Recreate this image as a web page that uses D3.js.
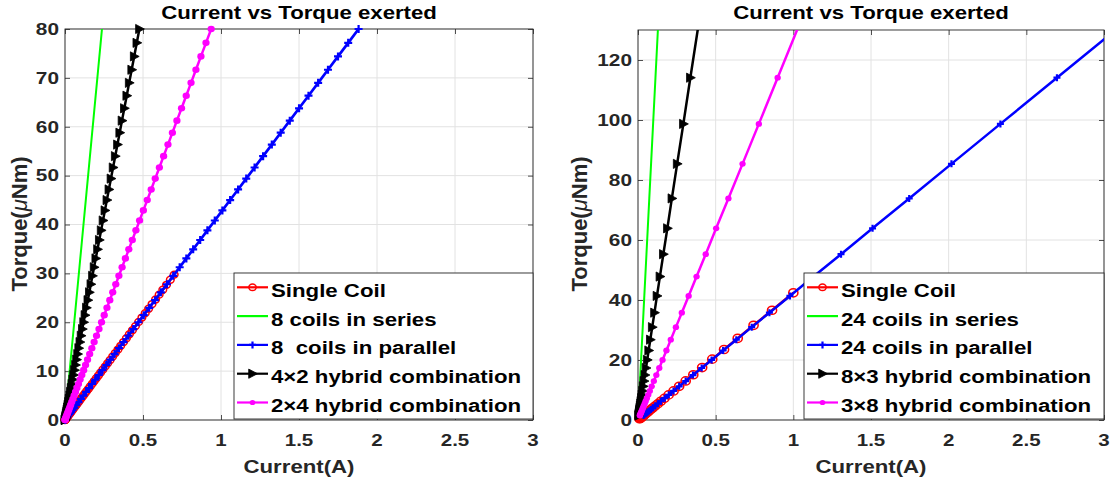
<!DOCTYPE html>
<html><head><meta charset="utf-8">
<script src="https://cdn.jsdelivr.net/npm/d3@7"></script>
<style>
body{margin:0;background:#fff}
text{font-family:"Liberation Sans",Arial,sans-serif;font-weight:bold}
</style>
</head><body><svg id="c" width="1118" height="488"></svg>
<script>
// ---------- tick labels / legend text ----------
const xTickValues = [0, 0.5, 1, 1.5, 2, 2.5, 3];
const xTickLabels = ["0", "0.5", "1", "1.5", "2", "2.5", "3"];
const leftYTicks = [0, 10, 20, 30, 40, 50, 60, 70, 80];
const rightYTicks = [0, 20, 40, 60, 80, 100, 120];
const leftLegend = ["Single Coil", "8 coils in series", "8  coils in parallel", "4\u00d72 hybrid combination", "2\u00d74 hybrid combination"];
const rightLegend = ["Single Coil", "24 coils in series", "24 coils in parallel", "8\u00d73 hybrid combination", "3\u00d78 hybrid combination"];

// ---------- left panel data (8 coils) ----------
const leftTorque = [0,0.03,0.10,0.23,0.41,0.64,0.92,1.25,1.63,2.07,2.55,3.09,3.67,4.31,5.00,5.74,6.53,7.37,8.27,9.21,10.20,11.25,12.35,13.49,14.69,15.94,17.24,18.60,20.00,21.45,22.96,24.52,26.12,27.78,29.49,31.25,33.06,34.92,36.83,38.80,40.82,42.88,45.00,47.17,49.39,51.66,53.98,56.35,58.78,61.25,63.78,66.35,68.98,71.66,74.39,77.17,80.00];
const leftSingleCurrent = [0,0.0002,0.0009,0.0020,0.0036,0.0056,0.0080,0.0109,0.0143,0.0181,0.0223,0.0270,0.0321,0.0377,0.0438,0.0502,0.0571,0.0645,0.0723,0.0806,0.0893,0.0984,0.1080,0.1181,0.1286,0.1395,0.1509,0.1627,0.1750,0.1877,0.2009,0.2145,0.2286,0.2431,0.2580,0.2734,0.2893,0.3056,0.3223,0.3395,0.3571,0.3752,0.3938,0.4127,0.4321,0.4520,0.4723,0.4931,0.5143,0.5359,0.5580,0.5806,0.6036,0.6270,0.6509,0.6752,0.7000];
const leftSingleTorque = [0,0.01,0.04,0.09,0.15,0.24,0.34,0.46,0.61,0.77,0.95,1.15,1.37,1.60,1.86,2.13,2.43,2.74,3.07,3.42,3.79,4.18,4.59,5.02,5.46,5.93,6.41,6.92,7.44,7.98,8.54,9.12,9.71,10.33,10.97,11.62,12.29,12.99,13.70,14.43,15.18,15.95,16.73,17.54,18.37,19.21,20.07,20.96,21.86,22.78,23.72,24.67,25.65,26.65,27.66,28.70,29.75];
const leftSeriesCurrent = [0,0.0001,0.0003,0.0007,0.0012,0.0019,0.0027,0.0037,0.0048,0.0061,0.0076,0.0091,0.0109,0.0128,0.0148,0.0170,0.0193,0.0218,0.0245,0.0273,0.0302,0.0333,0.0366,0.0400,0.0435,0.0472,0.0511,0.0551,0.0593,0.0636,0.0680,0.0726,0.0774,0.0823,0.0874,0.0926,0.0979,0.1035,0.1091,0.1149,0.1209,0.1270,0.1333,0.1397,0.1463,0.1530,0.1599,0.1669,0.1741,0.1815,0.1889,0.1966,0.2044,0.2123,0.2204,0.2286,0.2370];
const leftParallelCurrent = [0,0.0006,0.0024,0.0054,0.0096,0.0150,0.0216,0.0294,0.0384,0.0486,0.0600,0.0726,0.0864,0.1014,0.1176,0.1350,0.1536,0.1734,0.1944,0.2166,0.2400,0.2647,0.2905,0.3175,0.3457,0.3751,0.4057,0.4375,0.4705,0.5047,0.5401,0.5767,0.6145,0.6535,0.6937,0.7352,0.7778,0.8216,0.8666,0.9128,0.9602,1.0088,1.0586,1.1096,1.1618,1.2153,1.2699,1.3257,1.3827,1.4409,1.5003,1.5609,1.6227,1.6858,1.7500,1.8154,1.8820];
const leftHybrid42Current = [0,0.0002,0.0006,0.0014,0.0024,0.0038,0.0055,0.0075,0.0097,0.0123,0.0152,0.0184,0.0219,0.0257,0.0298,0.0342,0.0389,0.0440,0.0493,0.0549,0.0608,0.0671,0.0736,0.0805,0.0876,0.0951,0.1028,0.1109,0.1193,0.1279,0.1369,0.1462,0.1558,0.1656,0.1758,0.1863,0.1971,0.2082,0.2196,0.2314,0.2434,0.2557,0.2683,0.2812,0.2945,0.3080,0.3219,0.3360,0.3505,0.3652,0.3803,0.3956,0.4113,0.4273,0.4435,0.4601,0.4770];
const leftHybrid24Current = [0,0.0003,0.0012,0.0027,0.0048,0.0075,0.0108,0.0146,0.0191,0.0242,0.0299,0.0362,0.0430,0.0505,0.0586,0.0672,0.0765,0.0863,0.0968,0.1079,0.1195,0.1318,0.1446,0.1581,0.1721,0.1867,0.2020,0.2178,0.2343,0.2513,0.2689,0.2871,0.3060,0.3254,0.3454,0.3660,0.3872,0.4090,0.4314,0.4545,0.4781,0.5023,0.5271,0.5525,0.5784,0.6050,0.6322,0.6600,0.6884,0.7174,0.7470,0.7771,0.8079,0.8393,0.8713,0.9038,0.9370];

// ---------- right panel data (24 coils) ----------
const rightTorque = [131.9,114.10,98.70,85.38,73.86,63.89,55.27,47.81,41.36,35.78,30.95,26.77,23.16,20.03,17.33,14.99,12.97,11.22,9.70,8.39,7.26,6.28,5.43,4.70,4.07,3.52,3.04,2.63,2.28,1.97,1.70,1.47];
const rightSingleCurrent = [1.000,0.863,0.744,0.642,0.554,0.478,0.413,0.356,0.307,0.265,0.229,0.197,0.170,0.147,0.127,0.109,0.094,0.081,0.070,0.061,0.052,0.045,0.039,0.034,0.029,0.025,0.022,0.019,0.016,0.014,0.012,0.010];
const rightSingleTorque = [42.40,36.58,31.56,27.23,23.50,20.28,17.49,15.09,13.02,11.24,9.69,8.37,7.22,6.23,5.37,4.63,4.00,3.45,2.98,2.57,2.22,1.91,1.65,1.42,1.23,1.06,0.92,0.79,0.68,0.59,0.51,0.44];
const rightSeriesCurrent = [0.1299,0.1124,0.0972,0.0841,0.0727,0.0629,0.0544,0.0471,0.0407,0.0352,0.0305,0.0264,0.0228,0.0197,0.0171,0.0148,0.0128,0.0110,0.0096,0.0083,0.0072,0.0062,0.0053,0.0046,0.0040,0.0035,0.0030,0.0026,0.0022,0.0019,0.0017,0.0015];
const rightParallelCurrent = [3.118,2.697,2.333,2.018,1.746,1.510,1.307,1.130,0.978,0.846,0.732,0.633,0.548,0.474,0.410,0.354,0.307,0.265,0.229,0.198,0.172,0.148,0.128,0.111,0.096,0.083,0.072,0.062,0.054,0.047,0.040,0.035];
const rightHybrid83Current = [0.390,0.337,0.292,0.252,0.218,0.189,0.163,0.141,0.122,0.106,0.0915,0.0791,0.0685,0.0593,0.0513,0.0443,0.0384,0.0331,0.0286,0.0248,0.0215,0.0185,0.0160,0.0139,0.0120,0.0104,0.0090,0.0078,0.0068,0.0059,0.0050,0.0044];
const rightHybrid38Current = [1.039,0.899,0.778,0.673,0.582,0.503,0.436,0.377,0.326,0.282,0.244,0.211,0.183,0.158,0.137,0.118,0.102,0.088,0.076,0.066,0.057,0.049,0.043,0.037,0.032,0.028,0.024,0.021,0.018,0.016,0.013,0.012];

// ---------- drawing ----------
const svg = d3.select("#c");
const AX = "#262626";

function stext(g, x, y, str, size, sx, anchor, fill) {
  return g.append("text")
    .attr("transform", `translate(${x},${y}) scale(${sx},1)`)
    .attr("text-anchor", anchor)
    .attr("xml:space", "preserve")
    .style("white-space", "pre")
    .style("font-size", size + "px")
    .attr("fill", fill)
    .text(str);
}

function marker(g, type, cx, cy, color, ms) {
  if (type === "o") {
    g.append("ellipse").attr("cx", cx).attr("cy", cy).attr("rx", ms.o * 1.12).attr("ry", ms.o)
      .attr("fill", "none").attr("stroke", color).attr("stroke-width", 1.5);
  } else if (type === "+") {
    const h = ms.p;
    g.append("path").attr("d", `M${cx-h},${cy}H${cx+h}M${cx},${cy-h}V${cy+h}`)
      .attr("stroke", color).attr("stroke-width", 2.2).attr("fill", "none");
  } else if (type === ">") {
    g.append("path").attr("d", `M${cx-3.8},${cy-4.6}L${cx+5},${cy}L${cx-3.8},${cy+4.6}Z`)
      .attr("fill", color).attr("stroke", color).attr("stroke-width", 0.8);
  } else if (type === ".") {
    g.append("ellipse").attr("cx", cx).attr("cy", cy).attr("rx", ms.d * 1.1).attr("ry", ms.d).attr("fill", color);
  }
}

function panel(cfg) {
  const x = d3.scaleLinear().domain([0, 3]).range([cfg.x0, cfg.x1]);
  const y = d3.scaleLinear().domain([0, cfg.yMax]).range([cfg.yb, cfg.yt]);
  const g = svg.append("g");
  const id = "clip" + cfg.x0;
  svg.append("clipPath").attr("id", id).append("rect")
    .attr("x", cfg.x0).attr("y", cfg.yt).attr("width", cfg.x1 - cfg.x0).attr("height", cfg.yb - cfg.yt);

  // grid
  g.selectAll(null).data(xTickValues).enter().append("line")
    .attr("x1", d => x(d)).attr("x2", d => x(d)).attr("y1", cfg.yt).attr("y2", cfg.yb)
    .attr("stroke", "#e2e2e2").attr("stroke-width", 1);
  g.selectAll(null).data(cfg.yTicks).enter().append("line")
    .attr("x1", cfg.x0).attr("x2", cfg.x1).attr("y1", d => y(d)).attr("y2", d => y(d))
    .attr("stroke", "#e2e2e2").attr("stroke-width", 1);

  // axes (ticks inward, mirrored)
  const axes = [
    [d3.axisBottom(x).tickValues(xTickValues), `translate(0,${cfg.yb})`],
    [d3.axisTop(x).tickValues(xTickValues), `translate(0,${cfg.yt})`],
    [d3.axisLeft(y).tickValues(cfg.yTicks), `translate(${cfg.x0},0)`],
    [d3.axisRight(y).tickValues(cfg.yTicks), `translate(${cfg.x1},0)`]
  ];
  axes.forEach(([a, t]) => {
    const ag = g.append("g").attr("transform", t)
      .call(a.tickSizeInner(-5).tickSizeOuter(0).tickFormat(""));
    ag.select(".domain").remove();
    ag.selectAll("line").attr("stroke", AX).attr("stroke-width", 0.8);
    ag.selectAll("text").remove();
  });
  g.append("rect").attr("x", cfg.x0).attr("y", cfg.yt)
    .attr("width", cfg.x1 - cfg.x0).attr("height", cfg.yb - cfg.yt)
    .attr("fill", "none").attr("stroke", AX).attr("stroke-width", 0.9);

  // tick labels
  xTickValues.forEach((v, i) => stext(g, x(v), cfg.yb + 25.5, xTickLabels[i], 16, 1.28, "middle", AX));
  cfg.yTicks.forEach(v => stext(g, cfg.x0 - 6, y(v) + 5.8, String(v), 16, 1.3, "end", AX));

  // title and labels
  const cx = (cfg.x0 + cfg.x1) / 2;
  stext(g, cx, 18.5, "Current vs Torque exerted", 18.5, 1.2, "middle", "#000");
  stext(g, cx, 472.5, "Current(A)", 18.5, 1.2, "middle", AX);
  const yl = g.append("text")
    .attr("transform", `translate(${cfg.ylx},224) rotate(-90)`)
    .attr("text-anchor", "middle").style("font-size", "22px").attr("fill", AX);
  yl.append("tspan").text("Torque(");
  yl.append("tspan").style("font-style", "italic").style("font-weight", "normal").text("\u03bc");
  yl.append("tspan").text("Nm)");

  // series
  const line = d3.line().x(d => x(d[0])).y(d => y(d[1]));
  cfg.series.forEach(s => {
    const pts = s.cur.map((c, i) => [c, s.tor[i]]);
    g.append("path").attr("d", line(pts)).attr("clip-path", `url(#${id})`)
      .attr("fill", "none").attr("stroke", s.color).attr("stroke-width", s.lw);
    if (s.mk !== "none") {
      const mg = g.append("g");
      pts.filter(p => p[0] >= 0 && p[0] <= 3 && p[1] >= 0 && p[1] <= cfg.yMax)
        .forEach(p => marker(mg, s.mk, x(p[0]), y(p[1]), s.color, cfg.ms));
    }
  });

  // legend
  const lx = cfg.legX, ly = 273;
  g.append("rect").attr("x", lx).attr("y", ly).attr("width", cfg.x1 - lx).attr("height", 146)
    .attr("fill", "#fff").attr("stroke", AX).attr("stroke-width", 0.9);
  const lms = {o: 3.3, p: 3.5, d: 2.6};
  cfg.series.forEach((s, i) => {
    const ry = 287.3 + i * 28.8;
    g.append("line").attr("x1", lx + 3).attr("x2", lx + 34).attr("y1", ry).attr("y2", ry)
      .attr("stroke", s.color).attr("stroke-width", 2.2);
    if (s.mk !== "none") marker(g, s.mk, lx + 18.5, ry, s.color, lms);
    stext(g, lx + 37, ry + 9.5, cfg.legend[i], 17.5, 1.27, "start", "#000");
  });
}

panel({
  x0: 65, x1: 533, yt: 29, yb: 420, yMax: 80, yTicks: leftYTicks, ylx: 27, legX: 234, legend: leftLegend,
  ms: {o: 3.4, p: 4, d: 3.3},
  series: [
    {cur: leftSingleCurrent, tor: leftSingleTorque, color: "#ff0000", mk: "o", lw: 2.5},
    {cur: leftSeriesCurrent, tor: leftTorque, color: "#00ff00", mk: "none", lw: 2},
    {cur: leftParallelCurrent, tor: leftTorque, color: "#0000ff", mk: "+", lw: 2.7},
    {cur: leftHybrid42Current, tor: leftTorque, color: "#000000", mk: ">", lw: 2.5},
    {cur: leftHybrid24Current, tor: leftTorque, color: "#ff00ff", mk: ".", lw: 2.5}
  ]
});
panel({
  x0: 638, x1: 1104, yt: 30, yb: 420, yMax: 130, yTicks: rightYTicks, ylx: 587, legX: 804, legend: rightLegend,
  ms: {o: 4.1, p: 3.5, d: 2.9},
  series: [
    {cur: rightSingleCurrent, tor: rightSingleTorque, color: "#ff0000", mk: "o", lw: 2.5},
    {cur: rightSeriesCurrent, tor: rightTorque, color: "#00ff00", mk: "none", lw: 2},
    {cur: rightParallelCurrent, tor: rightTorque, color: "#0000ff", mk: "+", lw: 2.5},
    {cur: rightHybrid83Current, tor: rightTorque, color: "#000000", mk: ">", lw: 2.5},
    {cur: rightHybrid38Current, tor: rightTorque, color: "#ff00ff", mk: ".", lw: 2.5}
  ]
});
</script></body></html>
